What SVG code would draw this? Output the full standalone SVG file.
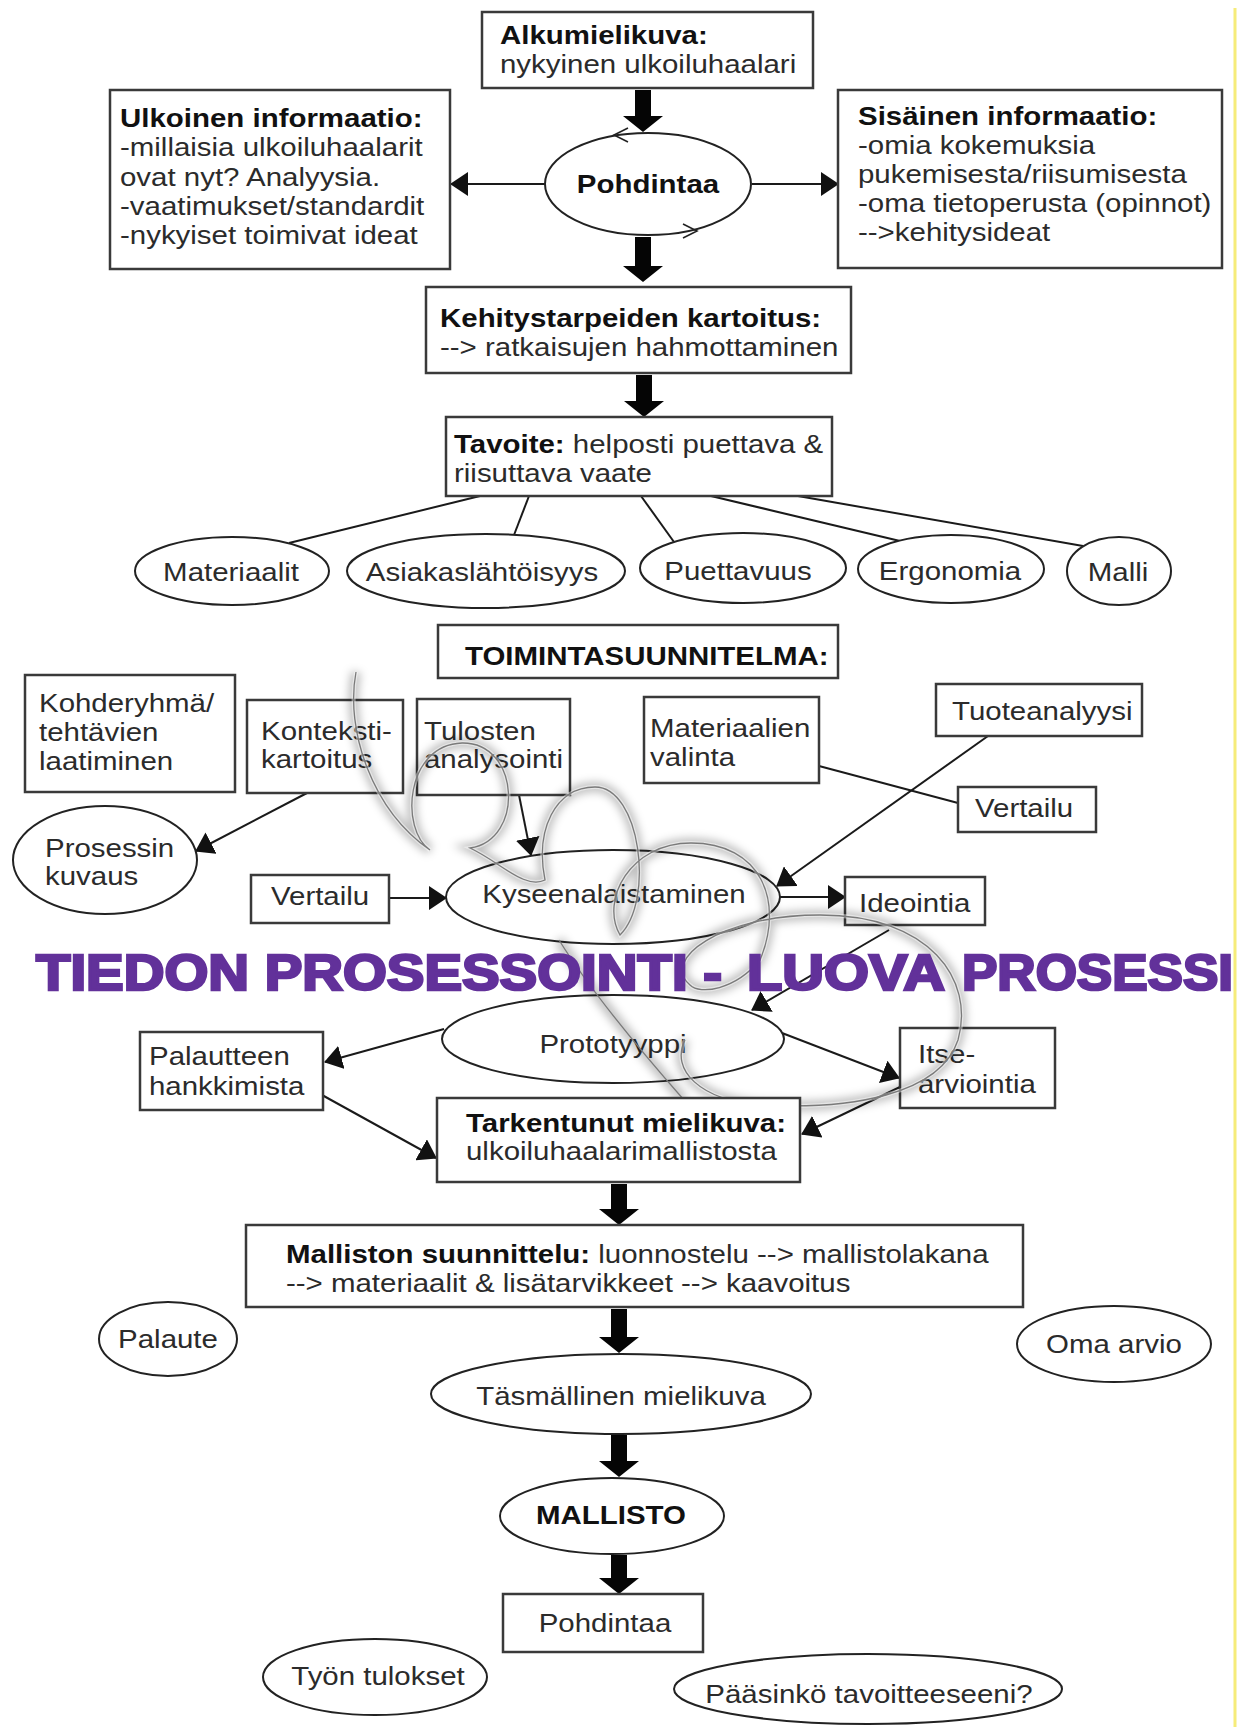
<svg xmlns="http://www.w3.org/2000/svg" width="1251" height="1727" viewBox="0 0 1251 1727">
<style>
.bx{fill:#fff;stroke:#3a3a3a;stroke-width:2.5}
.el{fill:#fff;stroke:#222;stroke-width:2}
.t{font-family:"Liberation Sans",Arial,sans-serif;font-size:25.5px;fill:#2b2b2b}
.b{font-weight:bold;fill:#111}
.cn{stroke:#1a1a1a;stroke-width:2;fill:none}
.ta{fill:#050505}
.ti{font-family:"Liberation Sans",Arial,sans-serif;font-size:50px;font-weight:bold;fill:#62319a;stroke:#62319a;stroke-width:2.6}
.sw1{fill:none;stroke:#000;stroke-opacity:0.25;stroke-width:10;filter:url(#blur)}
.sw2{fill:none;stroke:#fff;stroke-opacity:0.45;stroke-width:4}
.sw3{fill:none;stroke:#7a7a7a;stroke-width:1.3}
</style>
<defs>
<marker id="ah" markerUnits="userSpaceOnUse" markerWidth="18" markerHeight="24" refX="17" refY="12" orient="auto">
<path d="M0,0 L18,12 L0,24 z" fill="#111"/>
</marker>
<filter id="blur" x="-20%" y="-20%" width="140%" height="140%"><feGaussianBlur stdDeviation="4"/></filter>
<clipPath id="pg"><rect x="0" y="0" width="1234" height="1727"/></clipPath>
</defs>
<rect width="1251" height="1727" fill="#fff"/>
<line x1="1235" y1="8" x2="1235" y2="1727" stroke="#f6ec7a" stroke-width="3"/>

<g id="connectors">
<line class="cn" x1="545" y1="184" x2="451" y2="184" marker-end="url(#ah)"/>
<line class="cn" x1="752" y1="184" x2="838" y2="184" marker-end="url(#ah)"/>
<line class="cn" x1="480" y1="496" x2="289" y2="543"/>
<line class="cn" x1="529" y1="496" x2="514" y2="535"/>
<line class="cn" x1="641" y1="496" x2="674" y2="542"/>
<line class="cn" x1="711" y1="496" x2="900" y2="541"/>
<line class="cn" x1="798" y1="496" x2="1083" y2="546"/>
<line class="cn" x1="307" y1="793" x2="196" y2="851" marker-end="url(#ah)"/>
<line class="cn" x1="519" y1="795" x2="531" y2="855" marker-end="url(#ah)"/>
<line class="cn" x1="389" y1="898" x2="446" y2="898" marker-end="url(#ah)"/>
<line class="cn" x1="819" y1="766" x2="958" y2="803"/>
<line class="cn" x1="988" y1="736" x2="777" y2="886" marker-end="url(#ah)"/>
<line class="cn" x1="780" y1="897" x2="845" y2="897" marker-end="url(#ah)"/>
<line class="cn" x1="889" y1="930" x2="752" y2="1010" marker-end="url(#ah)"/>
<line class="cn" x1="444" y1="1029" x2="325" y2="1062" marker-end="url(#ah)"/>
<line class="cn" x1="322" y1="1095" x2="436" y2="1158" marker-end="url(#ah)"/>
<line class="cn" x1="782" y1="1033" x2="899" y2="1078" marker-end="url(#ah)"/>
<line class="cn" x1="900" y1="1087" x2="802" y2="1134" marker-end="url(#ah)"/>
<polygon class="ta" points="635,90 651,90 651,116 663,116 643,132 623,116 635,116"/>
<polygon class="ta" points="635,237 651,237 651,266 663,266 643,282 623,266 635,266"/>
<polygon class="ta" points="636,375 652,375 652,401 664,401 644,417 624,401 636,401"/>
<polygon class="ta" points="611,1184 627,1184 627,1209 639,1209 619,1225 599,1209 611,1209"/>
<polygon class="ta" points="611,1309 627,1309 627,1337 639,1337 619,1353 599,1337 611,1337"/>
<polygon class="ta" points="611,1435 627,1435 627,1461 639,1461 619,1477 599,1461 611,1461"/>
<polygon class="ta" points="611,1555 627,1555 627,1578 639,1578 619,1594 599,1578 611,1578"/>
</g>

<g id="alkumielikuva"><rect class="bx" x="482" y="12" width="331" height="76"/>
<text class="t" transform="matrix(1.155 0 0 1 500 44)"><tspan class="b">Alkumielikuva:</tspan><tspan x="0" dy="29">nykyinen ulkoiluhaalari</tspan></text></g>

<g id="pohdintaa1"><ellipse class="el" cx="648" cy="184" rx="103" ry="51"/>
<polyline points="628,128 614,135 628,142" fill="none" stroke="#222" stroke-width="1.6"/>
<polyline points="683,224 697,231 683,238" fill="none" stroke="#222" stroke-width="1.6"/>
<text class="t b" text-anchor="middle" transform="matrix(1.155 0 0 1 648 193)">Pohdintaa</text></g>

<g id="ulkoinen"><rect class="bx" x="110" y="90" width="340" height="179"/>
<text class="t" transform="matrix(1.155 0 0 1 120 127)"><tspan class="b">Ulkoinen informaatio:</tspan><tspan x="0" dy="29.3">-millaisia ulkoiluhaalarit</tspan><tspan x="0" dy="29.3">ovat nyt? Analyysia.</tspan><tspan x="0" dy="29.3">-vaatimukset/standardit</tspan><tspan x="0" dy="29.3">-nykyiset toimivat ideat</tspan></text></g>

<g id="sisainen"><rect class="bx" x="838" y="90" width="384" height="178"/>
<text class="t" transform="matrix(1.155 0 0 1 858 125)"><tspan class="b">Sisäinen informaatio:</tspan><tspan x="0" dy="29">-omia kokemuksia</tspan><tspan x="0" dy="29">pukemisesta/riisumisesta</tspan><tspan x="0" dy="29">-oma tietoperusta (opinnot)</tspan><tspan x="0" dy="29">--&gt;kehitysideat</tspan></text></g>

<g id="kehitystarpeet"><rect class="bx" x="426" y="287" width="425" height="86"/>
<text class="t" transform="matrix(1.155 0 0 1 440 327)"><tspan class="b">Kehitystarpeiden kartoitus:</tspan><tspan x="0" dy="29">--&gt; ratkaisujen hahmottaminen</tspan></text></g>

<g id="tavoite"><rect class="bx" x="446" y="417" width="386" height="79"/>
<text class="t" transform="matrix(1.155 0 0 1 454 453)"><tspan class="b">Tavoite:</tspan> helposti puettava &amp;<tspan x="0" dy="29">riisuttava vaate</tspan></text></g>

<g id="materiaalit"><ellipse class="el" cx="232" cy="571" rx="97" ry="34"/>
<text class="t" text-anchor="middle" transform="matrix(1.155 0 0 1 231 581)">Materiaalit</text></g>
<g id="asiakaslahtoisyys"><ellipse class="el" cx="486" cy="571" rx="139" ry="37"/>
<text class="t" text-anchor="middle" transform="matrix(1.155 0 0 1 482 581)">Asiakaslähtöisyys</text></g>
<g id="puettavuus"><ellipse class="el" cx="743" cy="568" rx="103" ry="35"/>
<text class="t" text-anchor="middle" transform="matrix(1.155 0 0 1 738 580)">Puettavuus</text></g>
<g id="ergonomia"><ellipse class="el" cx="951" cy="569" rx="93" ry="34"/>
<text class="t" text-anchor="middle" transform="matrix(1.155 0 0 1 950 580)">Ergonomia</text></g>
<g id="malli"><ellipse class="el" cx="1119" cy="571" rx="52" ry="34"/>
<text class="t" text-anchor="middle" transform="matrix(1.155 0 0 1 1118 581)">Malli</text></g>

<g id="toimintasuunnitelma"><rect class="bx" x="438" y="625" width="400" height="53"/>
<text class="t b" transform="matrix(1.155 0 0 1 465 665)">TOIMINTASUUNNITELMA:</text></g>

<g id="kohderyhma"><rect class="bx" x="25" y="675" width="210" height="117"/>
<text class="t" transform="matrix(1.155 0 0 1 39 712)">Kohderyhmä/<tspan x="0" dy="29">tehtävien</tspan><tspan x="0" dy="29">laatiminen</tspan></text></g>
<g id="kontekstikartoitus"><rect class="bx" x="247" y="700" width="156" height="93"/>
<text class="t" transform="matrix(1.155 0 0 1 261 740)">Konteksti-<tspan x="0" dy="28">kartoitus</tspan></text></g>
<g id="tulosten"><rect class="bx" x="417" y="699" width="153" height="96"/>
<text class="t" transform="matrix(1.155 0 0 1 424 740)">Tulosten<tspan x="0" dy="28">analysointi</tspan></text></g>
<g id="materiaalien"><rect class="bx" x="644" y="697" width="175" height="86"/>
<text class="t" transform="matrix(1.155 0 0 1 650 737)">Materiaalien<tspan x="0" dy="29">valinta</tspan></text></g>
<g id="tuoteanalyysi"><rect class="bx" x="936" y="684" width="206" height="52"/>
<text class="t" transform="matrix(1.155 0 0 1 952 720)">Tuoteanalyysi</text></g>
<g id="vertailu2"><rect class="bx" x="958" y="787" width="138" height="45"/>
<text class="t" transform="matrix(1.155 0 0 1 975 817)">Vertailu</text></g>
<g id="prosessin"><ellipse class="el" cx="105" cy="860" rx="92" ry="54"/>
<text class="t" transform="matrix(1.155 0 0 1 45 857)">Prosessin<tspan x="0" dy="28">kuvaus</tspan></text></g>
<g id="vertailu1"><rect class="bx" x="251" y="875" width="138" height="48"/>
<text class="t" transform="matrix(1.155 0 0 1 271 905)">Vertailu</text></g>
<g id="kyseenalaistaminen"><ellipse class="el" cx="613" cy="897" rx="167" ry="47"/>
<text class="t" text-anchor="middle" transform="matrix(1.155 0 0 1 614 903)">Kyseenalaistaminen</text></g>
<g id="ideointia"><rect class="bx" x="845" y="877" width="140" height="48"/>
<text class="t" transform="matrix(1.155 0 0 1 859 912)">Ideointia</text></g>

<g id="prototyyppi"><ellipse class="el" cx="613" cy="1039" rx="171" ry="44"/>
<text class="t" text-anchor="middle" transform="matrix(1.155 0 0 1 613 1053)">Prototyyppi</text></g>
<g id="palautteen"><rect class="bx" x="140" y="1032" width="183" height="78"/>
<text class="t" transform="matrix(1.155 0 0 1 149 1065)">Palautteen<tspan x="0" dy="30">hankkimista</tspan></text></g>
<g id="itsearviointia"><rect class="bx" x="900" y="1028" width="155" height="80"/>
<text class="t" transform="matrix(1.155 0 0 1 918 1063)">Itse-<tspan x="0" dy="30">arviointia</tspan></text></g>

<g id="swirl">
<path class="sw1" d="M356,672 C345,730 372,810 430,850 C400,830 405,745 462,743 C520,742 525,840 470,848 C500,862 525,890 545,880 C535,830 555,787 595,787 C640,787 655,900 620,935 C600,900 630,843 691,843 C760,843 785,900 760,960 C735,990 700,995 690,985 C660,960 720,915 820,915 C930,915 975,980 958,1040 C940,1095 850,1110 760,1105 C700,1100 670,1070 685,1040"/>
<path class="sw1" d="M559,940 C590,990 640,1050 684,1100"/>
<path class="sw2" d="M356,672 C345,730 372,810 430,850 C400,830 405,745 462,743 C520,742 525,840 470,848 C500,862 525,890 545,880 C535,830 555,787 595,787 C640,787 655,900 620,935 C600,900 630,843 691,843 C760,843 785,900 760,960 C735,990 700,995 690,985 C660,960 720,915 820,915 C930,915 975,980 958,1040 C940,1095 850,1110 760,1105 C700,1100 670,1070 685,1040"/>
<path class="sw3" d="M356,672 C345,730 372,810 430,850 C400,830 405,745 462,743 C520,742 525,840 470,848 C500,862 525,890 545,880 C535,830 555,787 595,787 C640,787 655,900 620,935 C600,900 630,843 691,843 C760,843 785,900 760,960 C735,990 700,995 690,985 C660,960 720,915 820,915 C930,915 975,980 958,1040 C940,1095 850,1110 760,1105 C700,1100 670,1070 685,1040"/>
<path class="sw3" d="M559,940 C590,990 640,1050 684,1100"/>
</g>

<g id="title" clip-path="url(#pg)">
<text class="ti" x="36" y="990" textLength="686" lengthAdjust="spacingAndGlyphs">TIEDON PROSESSOINTI -</text>
<text class="ti" x="747" y="990" textLength="198" lengthAdjust="spacingAndGlyphs">LUOVA</text>
<text class="ti" x="962" y="990" textLength="271" lengthAdjust="spacingAndGlyphs">PROSESSI</text>
</g>

<g id="tarkentunut"><rect class="bx" x="437" y="1098" width="363" height="84"/>
<text class="t" transform="matrix(1.155 0 0 1 466 1132)"><tspan class="b">Tarkentunut mielikuva:</tspan><tspan x="0" dy="28">ulkoiluhaalarimallistosta</tspan></text></g>

<g id="malliston"><rect class="bx" x="246" y="1225" width="777" height="82"/>
<text class="t" transform="matrix(1.155 0 0 1 286 1263)"><tspan class="b">Malliston suunnittelu:</tspan> luonnostelu --&gt; mallistolakana<tspan x="0" dy="29">--&gt; materiaalit &amp; lisätarvikkeet --&gt; kaavoitus</tspan></text></g>

<g id="palaute"><ellipse class="el" cx="168" cy="1339" rx="69" ry="37"/>
<text class="t" text-anchor="middle" transform="matrix(1.155 0 0 1 168 1348)">Palaute</text></g>
<g id="omaarvio"><ellipse class="el" cx="1114" cy="1344" rx="97" ry="38"/>
<text class="t" text-anchor="middle" transform="matrix(1.155 0 0 1 1114 1353)">Oma arvio</text></g>
<g id="tasmallinen"><ellipse class="el" cx="621" cy="1394" rx="190" ry="40"/>
<text class="t" text-anchor="middle" transform="matrix(1.155 0 0 1 621 1405)">Täsmällinen mielikuva</text></g>
<g id="mallisto"><ellipse class="el" cx="612" cy="1516" rx="112" ry="38"/>
<text class="t b" text-anchor="middle" transform="matrix(1.155 0 0 1 611 1524)">MALLISTO</text></g>
<g id="pohdintaa2"><rect class="bx" x="503" y="1594" width="200" height="58"/>
<text class="t" text-anchor="middle" transform="matrix(1.155 0 0 1 605 1632)">Pohdintaa</text></g>
<g id="tyontulokset"><ellipse class="el" cx="375" cy="1677" rx="112" ry="38"/>
<text class="t" text-anchor="middle" transform="matrix(1.155 0 0 1 378 1685)">Työn tulokset</text></g>
<g id="paasinko"><ellipse class="el" cx="868" cy="1689" rx="194" ry="35"/>
<text class="t" text-anchor="middle" transform="matrix(1.155 0 0 1 869 1703)">Pääsinkö tavoitteeseeni?</text></g>
</svg>
